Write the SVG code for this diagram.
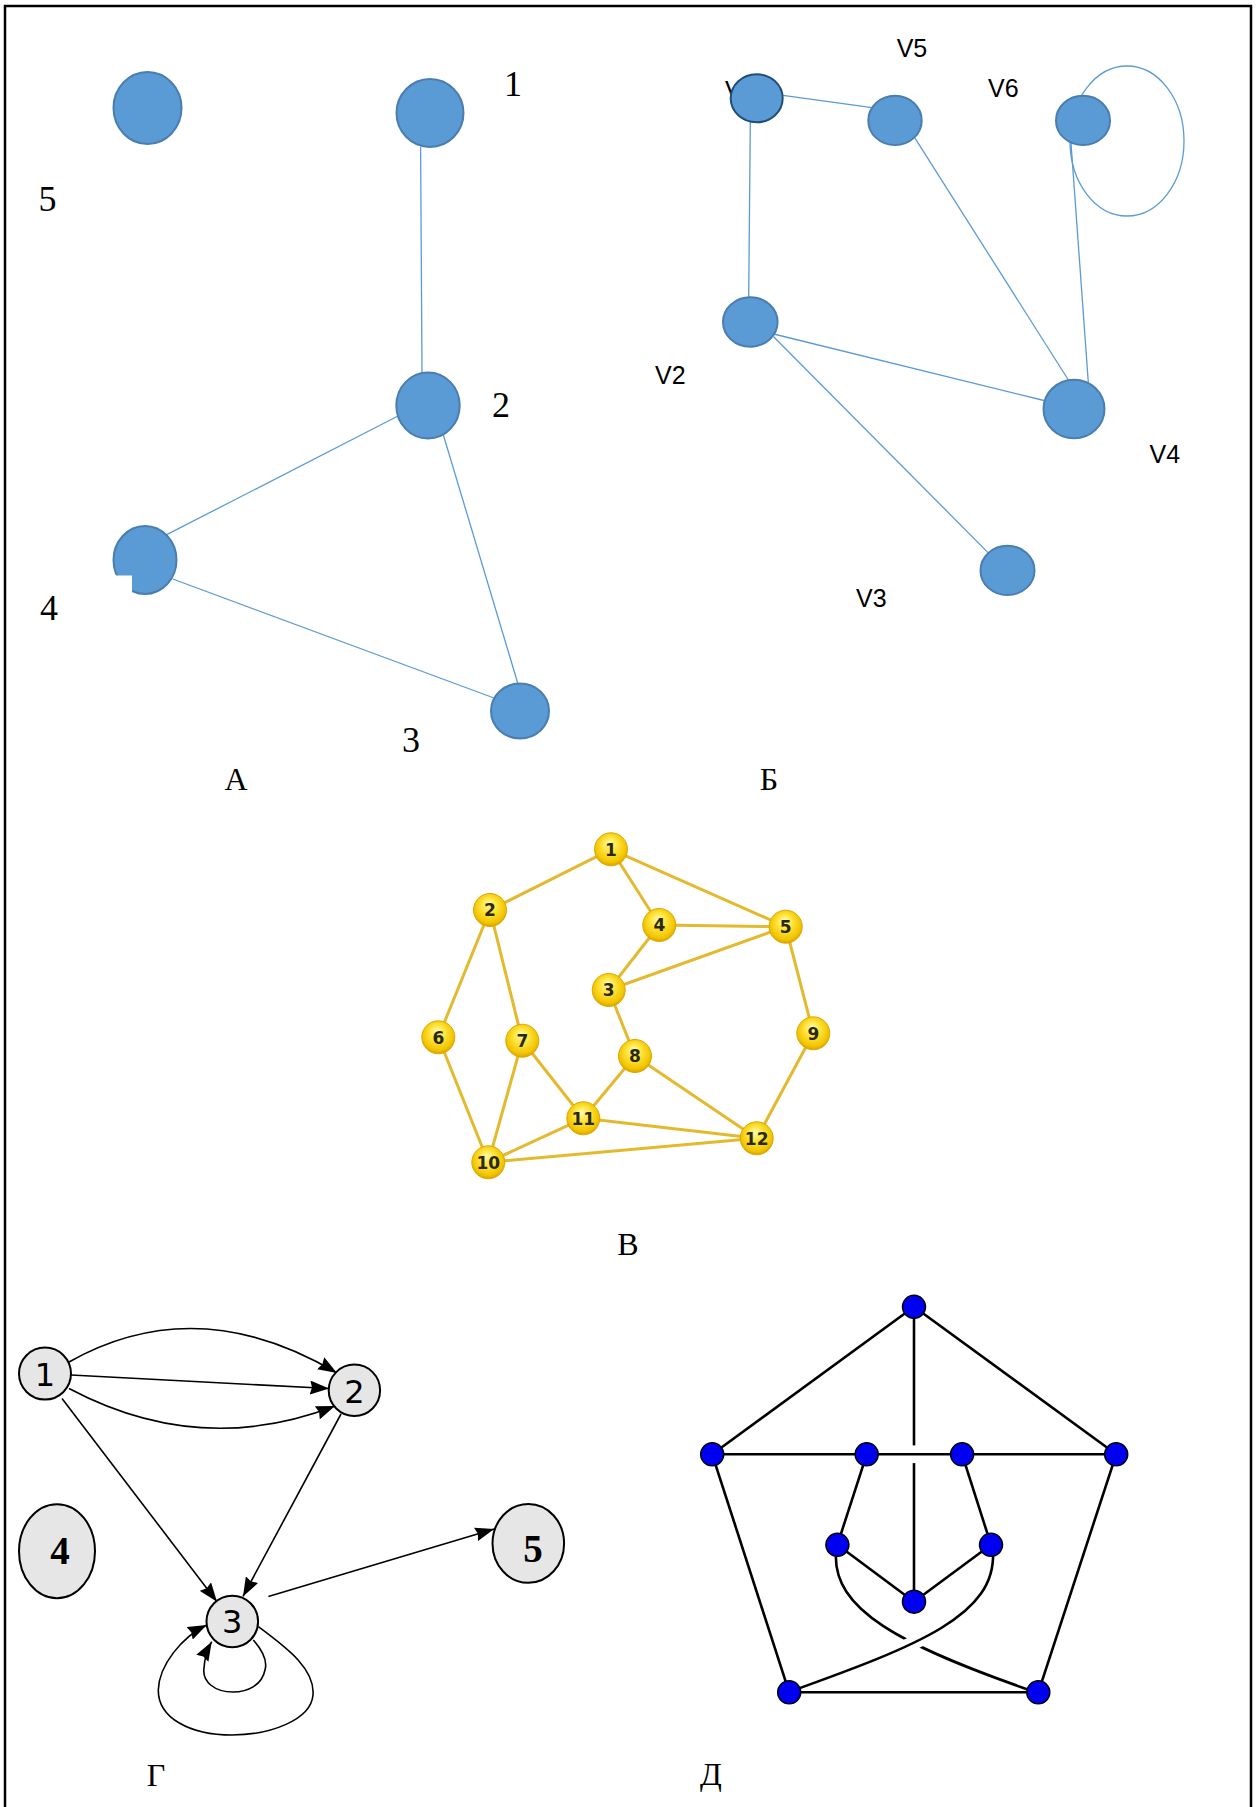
<svg xmlns="http://www.w3.org/2000/svg" width="1259" height="1807" viewBox="0 0 1259 1807">
<defs>
<style>
.bl{stroke:#5B9BD5;stroke-width:1.3;fill:none}
.bn{fill:#5B9BD5;stroke:#4A7DB0;stroke-width:2}
.ser{font-family:"Liberation Serif",serif;fill:#000}
.san{font-family:"Liberation Sans",sans-serif;font-size:25px;fill:#000}
.ye{stroke:#E3B92E;stroke-width:3;fill:none}
.yn{fill:url(#yg);stroke:#E0A800;stroke-width:1}
.yt{font-family:"DejaVu Sans",sans-serif;font-weight:bold;font-size:17px;fill:#2a2a10;text-anchor:middle}
.ge{stroke:#000;stroke-width:1.6;fill:none}
.gn{fill:#E6E6E6;stroke:#000;stroke-width:2}
.gt{font-family:"DejaVu Sans",sans-serif;font-size:32px;fill:#000;text-anchor:middle}
.gb{font-family:"Liberation Serif",serif;font-weight:bold;font-size:39px;fill:#000;text-anchor:middle}
.de{stroke:#000;stroke-width:2.6;fill:none}
.dn{fill:#0000F0;stroke:#000;stroke-width:1.5}
</style>
<radialGradient id="yg" cx="50%" cy="45%" r="55%" fx="45%" fy="30%">
<stop offset="0" stop-color="#FFF9B0"/>
<stop offset="0.4" stop-color="#FFE640"/>
<stop offset="0.85" stop-color="#F2C400"/>
<stop offset="1" stop-color="#D8A200"/>
</radialGradient>
<marker id="arr" viewBox="0 0 19 14" refX="19" refY="7" markerWidth="19" markerHeight="14" markerUnits="userSpaceOnUse" orient="auto">
<path d="M0,0 L19,7 L0,14 L2,7 z" fill="#000"/>
</marker>
<clipPath id="cross"><rect x="895" y="1625" width="40" height="40"/></clipPath>
</defs>
<rect x="5" y="6" width="1246" height="1812" fill="none" stroke="#000" stroke-width="2.5"/>

<!-- Panel A -->
<g id="edgesA">
<line class="bl" x1="420.6" y1="147" x2="422" y2="372"/>
<line class="bl" x1="398" y1="416" x2="166.7" y2="534.7"/>
<line class="bl" x1="172.8" y1="579" x2="494" y2="698"/>
<line class="bl" x1="443" y1="433.7" x2="518" y2="684"/>
</g>
<g id="A5"><ellipse class="bn" cx="147.5" cy="108" rx="34" ry="36"/></g>
<g id="A1"><ellipse class="bn" cx="430" cy="113" rx="33.5" ry="34"/><text class="ser" x="513" y="96" font-size="36" text-anchor="middle">1</text></g>
<g id="A2"><ellipse class="bn" cx="428" cy="405.5" rx="31.7" ry="33"/><text class="ser" x="501" y="417" font-size="36" text-anchor="middle">2</text></g>
<g id="A4"><ellipse class="bn" cx="145" cy="560" rx="31.5" ry="34"/><rect x="113" y="575.5" width="19" height="20" fill="#fff"/><text class="ser" x="49" y="620" font-size="36" text-anchor="middle">4</text></g>
<g id="A3"><ellipse class="bn" cx="520" cy="711" rx="29" ry="27.5"/><text class="ser" x="411" y="751.5" font-size="36" text-anchor="middle">3</text></g>
<text class="ser" x="47.4" y="210.7" font-size="36" text-anchor="middle">5</text>
<text class="ser" x="236" y="790" font-size="32" text-anchor="middle">А</text>

<!-- Panel Б -->
<g id="edgesB">
<line class="bl" x1="783" y1="95.4" x2="872" y2="107.7"/>
<line class="bl" x1="750.3" y1="121.4" x2="748.7" y2="297"/>
<line class="bl" x1="914.8" y1="137.8" x2="1068.4" y2="380"/>
<line class="bl" x1="1071" y1="143" x2="1088.5" y2="385"/>
<line class="bl" x1="773.6" y1="334" x2="1044" y2="400.5"/>
<line class="bl" x1="773.6" y1="336.7" x2="988" y2="552.6"/>
<ellipse class="bl" cx="1127" cy="141" rx="57" ry="75"/>
</g>
<g id="V1"><text class="san" x="725" y="99">V1</text><ellipse cx="756.7" cy="98.3" rx="26" ry="24" fill="#5B9BD5" stroke="#1F4E79" stroke-width="2"/></g>
<g id="V5"><ellipse class="bn" cx="895" cy="120.4" rx="26.7" ry="24.7"/><text class="san" x="896.7" y="57">V5</text></g>
<g id="V6"><ellipse class="bn" cx="1083" cy="120.4" rx="27" ry="24.7"/><text class="san" x="988" y="97">V6</text></g>
<g id="V2"><ellipse class="bn" cx="750.3" cy="322" rx="27.3" ry="24.7"/><text class="san" x="655" y="384">V2</text></g>
<g id="V4"><ellipse class="bn" cx="1074" cy="409" rx="30.5" ry="29.3"/><text class="san" x="1149.5" y="463">V4</text></g>
<g id="V3"><ellipse class="bn" cx="1007.5" cy="570.4" rx="27" ry="24.7"/><text class="san" x="856" y="607">V3</text></g>
<text class="ser" x="769" y="790" font-size="32" text-anchor="middle">Б</text>

<!-- Panel В -->
<g id="edgesV">
<line class="ye" x1="611" y1="849.3" x2="490" y2="910"/>
<line class="ye" x1="611" y1="849.3" x2="659.3" y2="925"/>
<line class="ye" x1="611" y1="849.3" x2="785.7" y2="926.7"/>
<line class="ye" x1="659.3" y1="925" x2="785.7" y2="926.7"/>
<line class="ye" x1="659.3" y1="925" x2="608.7" y2="990"/>
<line class="ye" x1="608.7" y1="990" x2="785.7" y2="926.7"/>
<line class="ye" x1="490" y1="910" x2="438.3" y2="1037.3"/>
<line class="ye" x1="490" y1="910" x2="522.3" y2="1040.7"/>
<line class="ye" x1="608.7" y1="990" x2="635" y2="1056"/>
<line class="ye" x1="785.7" y1="926.7" x2="813.3" y2="1033.3"/>
<line class="ye" x1="438.3" y1="1037.3" x2="488.3" y2="1162.3"/>
<line class="ye" x1="522.3" y1="1040.7" x2="488.3" y2="1162.3"/>
<line class="ye" x1="522.3" y1="1040.7" x2="583.3" y2="1118.3"/>
<line class="ye" x1="635" y1="1056" x2="583.3" y2="1118.3"/>
<line class="ye" x1="635" y1="1056" x2="756.7" y2="1138.3"/>
<line class="ye" x1="813.3" y1="1033.3" x2="756.7" y2="1138.3"/>
<line class="ye" x1="583.3" y1="1118.3" x2="756.7" y2="1138.3"/>
<line class="ye" x1="488.3" y1="1162.3" x2="583.3" y2="1118.3"/>
<line class="ye" x1="488.3" y1="1162.3" x2="756.7" y2="1138.3"/>
</g>
<g id="Y1"><circle class="yn" cx="611" cy="849.3" r="16.5"/><text class="yt" x="611" y="855.5">1</text></g>
<g id="Y2"><circle class="yn" cx="490" cy="910" r="16.5"/><text class="yt" x="490" y="916.2">2</text></g>
<g id="Y4"><circle class="yn" cx="659.3" cy="925" r="16.5"/><text class="yt" x="659.3" y="931.2">4</text></g>
<g id="Y5"><circle class="yn" cx="785.7" cy="926.7" r="16.5"/><text class="yt" x="785.7" y="932.9">5</text></g>
<g id="Y3"><circle class="yn" cx="608.7" cy="990" r="16.5"/><text class="yt" x="608.7" y="996.2">3</text></g>
<g id="Y6"><circle class="yn" cx="438.3" cy="1037.3" r="16.5"/><text class="yt" x="438.3" y="1043.5">6</text></g>
<g id="Y7"><circle class="yn" cx="522.3" cy="1040.7" r="16.5"/><text class="yt" x="522.3" y="1046.9">7</text></g>
<g id="Y8"><circle class="yn" cx="635" cy="1056" r="16.5"/><text class="yt" x="635" y="1062.2">8</text></g>
<g id="Y9"><circle class="yn" cx="813.3" cy="1033.3" r="16.5"/><text class="yt" x="813.3" y="1039.5">9</text></g>
<g id="Y11"><circle class="yn" cx="583.3" cy="1118.3" r="16.5"/><text class="yt" x="583.3" y="1124.5">11</text></g>
<g id="Y12"><circle class="yn" cx="756.7" cy="1138.3" r="16.5"/><text class="yt" x="756.7" y="1144.5">12</text></g>
<g id="Y10"><circle class="yn" cx="488.3" cy="1162.3" r="16.5"/><text class="yt" x="488.3" y="1168.5">10</text></g>
<text class="ser" x="628" y="1255" font-size="32" text-anchor="middle">В</text>

<!-- Panel Г -->
<g id="edgesG">
<path class="ge" d="M69,1362 Q197,1290 337,1373" marker-end="url(#arr)"/>
<path class="ge" d="M71,1375 L329,1388.5" marker-end="url(#arr)"/>
<path class="ge" d="M69,1388.5 Q200,1458 335,1406" marker-end="url(#arr)"/>
<path class="ge" d="M62,1398.5 L217,1601.7" marker-end="url(#arr)"/>
<path class="ge" d="M341,1414 L243,1596.4" marker-end="url(#arr)"/>
<path class="ge" d="M268.4,1596.4 L494.2,1528.9" stroke-width="2.6" marker-end="url(#arr)"/>
<path class="ge" d="M253.3,1640 C262,1650 268,1660 265,1670 C262,1685 248,1692 233,1692 C215,1692 202,1682 204,1668 C204.5,1660 207,1650 211.7,1641.7" marker-end="url(#arr)"/>
<path class="ge" d="M258.3,1626.7 C290,1650 315,1670 313,1695 C311,1720 270,1735 232,1735 C190,1735 158,1718 158.3,1690 C159,1665 182,1637 206.7,1625" marker-end="url(#arr)"/>
</g>
<g id="G1"><circle class="gn" cx="45" cy="1373.6" r="26"/><text class="gt" x="45" y="1385.7">1</text></g>
<g id="G2"><circle class="gn" cx="354.4" cy="1390.3" r="25.7"/><text class="gt" x="354.4" y="1402.8">2</text></g>
<g id="G3"><circle class="gn" cx="232.3" cy="1621.5" r="25.8"/><text class="gt" x="232.3" y="1633">3</text></g>
<g id="G4"><ellipse class="gn" cx="57" cy="1551.2" rx="38" ry="47"/><text class="gb" x="60" y="1564">4</text></g>
<g id="G5"><ellipse class="gn" cx="528.3" cy="1543.4" rx="35.8" ry="39.4"/><text class="gb" x="533" y="1562">5</text></g>
<text class="ser" x="156" y="1786" font-size="32" text-anchor="middle">Г</text>

<!-- Panel Д -->
<g id="edgesD">
<line class="de" x1="914" y1="1306.8" x2="712.2" y2="1454.3"/>
<line class="de" x1="914" y1="1306.8" x2="1116.2" y2="1454.3"/>
<line class="de" x1="914" y1="1306.8" x2="914" y2="1445.4"/>
<line class="de" x1="914" y1="1463.1" x2="914" y2="1601.7"/>
<line class="de" x1="712.2" y1="1454.3" x2="1116.2" y2="1454.3"/>
<line class="de" x1="712.2" y1="1454.3" x2="789.2" y2="1692.3"/>
<line class="de" x1="1116.2" y1="1454.3" x2="1038.3" y2="1692.3"/>
<line class="de" x1="789.2" y1="1692.3" x2="1038.3" y2="1692.3"/>
<line class="de" x1="866.7" y1="1454.3" x2="837.4" y2="1544.8"/>
<line class="de" x1="962.1" y1="1454.3" x2="991" y2="1544.8"/>
<line class="de" x1="837.4" y1="1544.8" x2="914" y2="1601.7"/>
<line class="de" x1="991" y1="1544.8" x2="914" y2="1601.7"/>
<path class="de" d="M836,1552 C832,1610 900,1645 1035,1692"/>
<path d="M993,1552 C996,1615 920,1645 789,1692" fill="none" stroke="#fff" stroke-width="14" clip-path="url(#cross)"/>
<path class="de" d="M993,1552 C996,1615 920,1645 789,1692"/>
</g>
<g id="D1"><circle class="dn" cx="914" cy="1306.8" r="11.5"/></g>
<g id="D2"><circle class="dn" cx="712.2" cy="1454.3" r="11.5"/></g>
<g id="D3"><circle class="dn" cx="866.7" cy="1454.3" r="11.5"/></g>
<g id="D4"><circle class="dn" cx="962.1" cy="1454.3" r="11.5"/></g>
<g id="D5"><circle class="dn" cx="1116.2" cy="1454.3" r="11.5"/></g>
<g id="D6"><circle class="dn" cx="837.4" cy="1544.8" r="11.5"/></g>
<g id="D7"><circle class="dn" cx="991" cy="1544.8" r="11.5"/></g>
<g id="D8"><circle class="dn" cx="914" cy="1601.7" r="11.5"/></g>
<g id="D9"><circle class="dn" cx="789.2" cy="1692.3" r="11.5"/></g>
<g id="D10"><circle class="dn" cx="1038.3" cy="1692.3" r="11.5"/></g>
<text class="ser" x="711" y="1785" font-size="32" text-anchor="middle">Д</text>
</svg>
